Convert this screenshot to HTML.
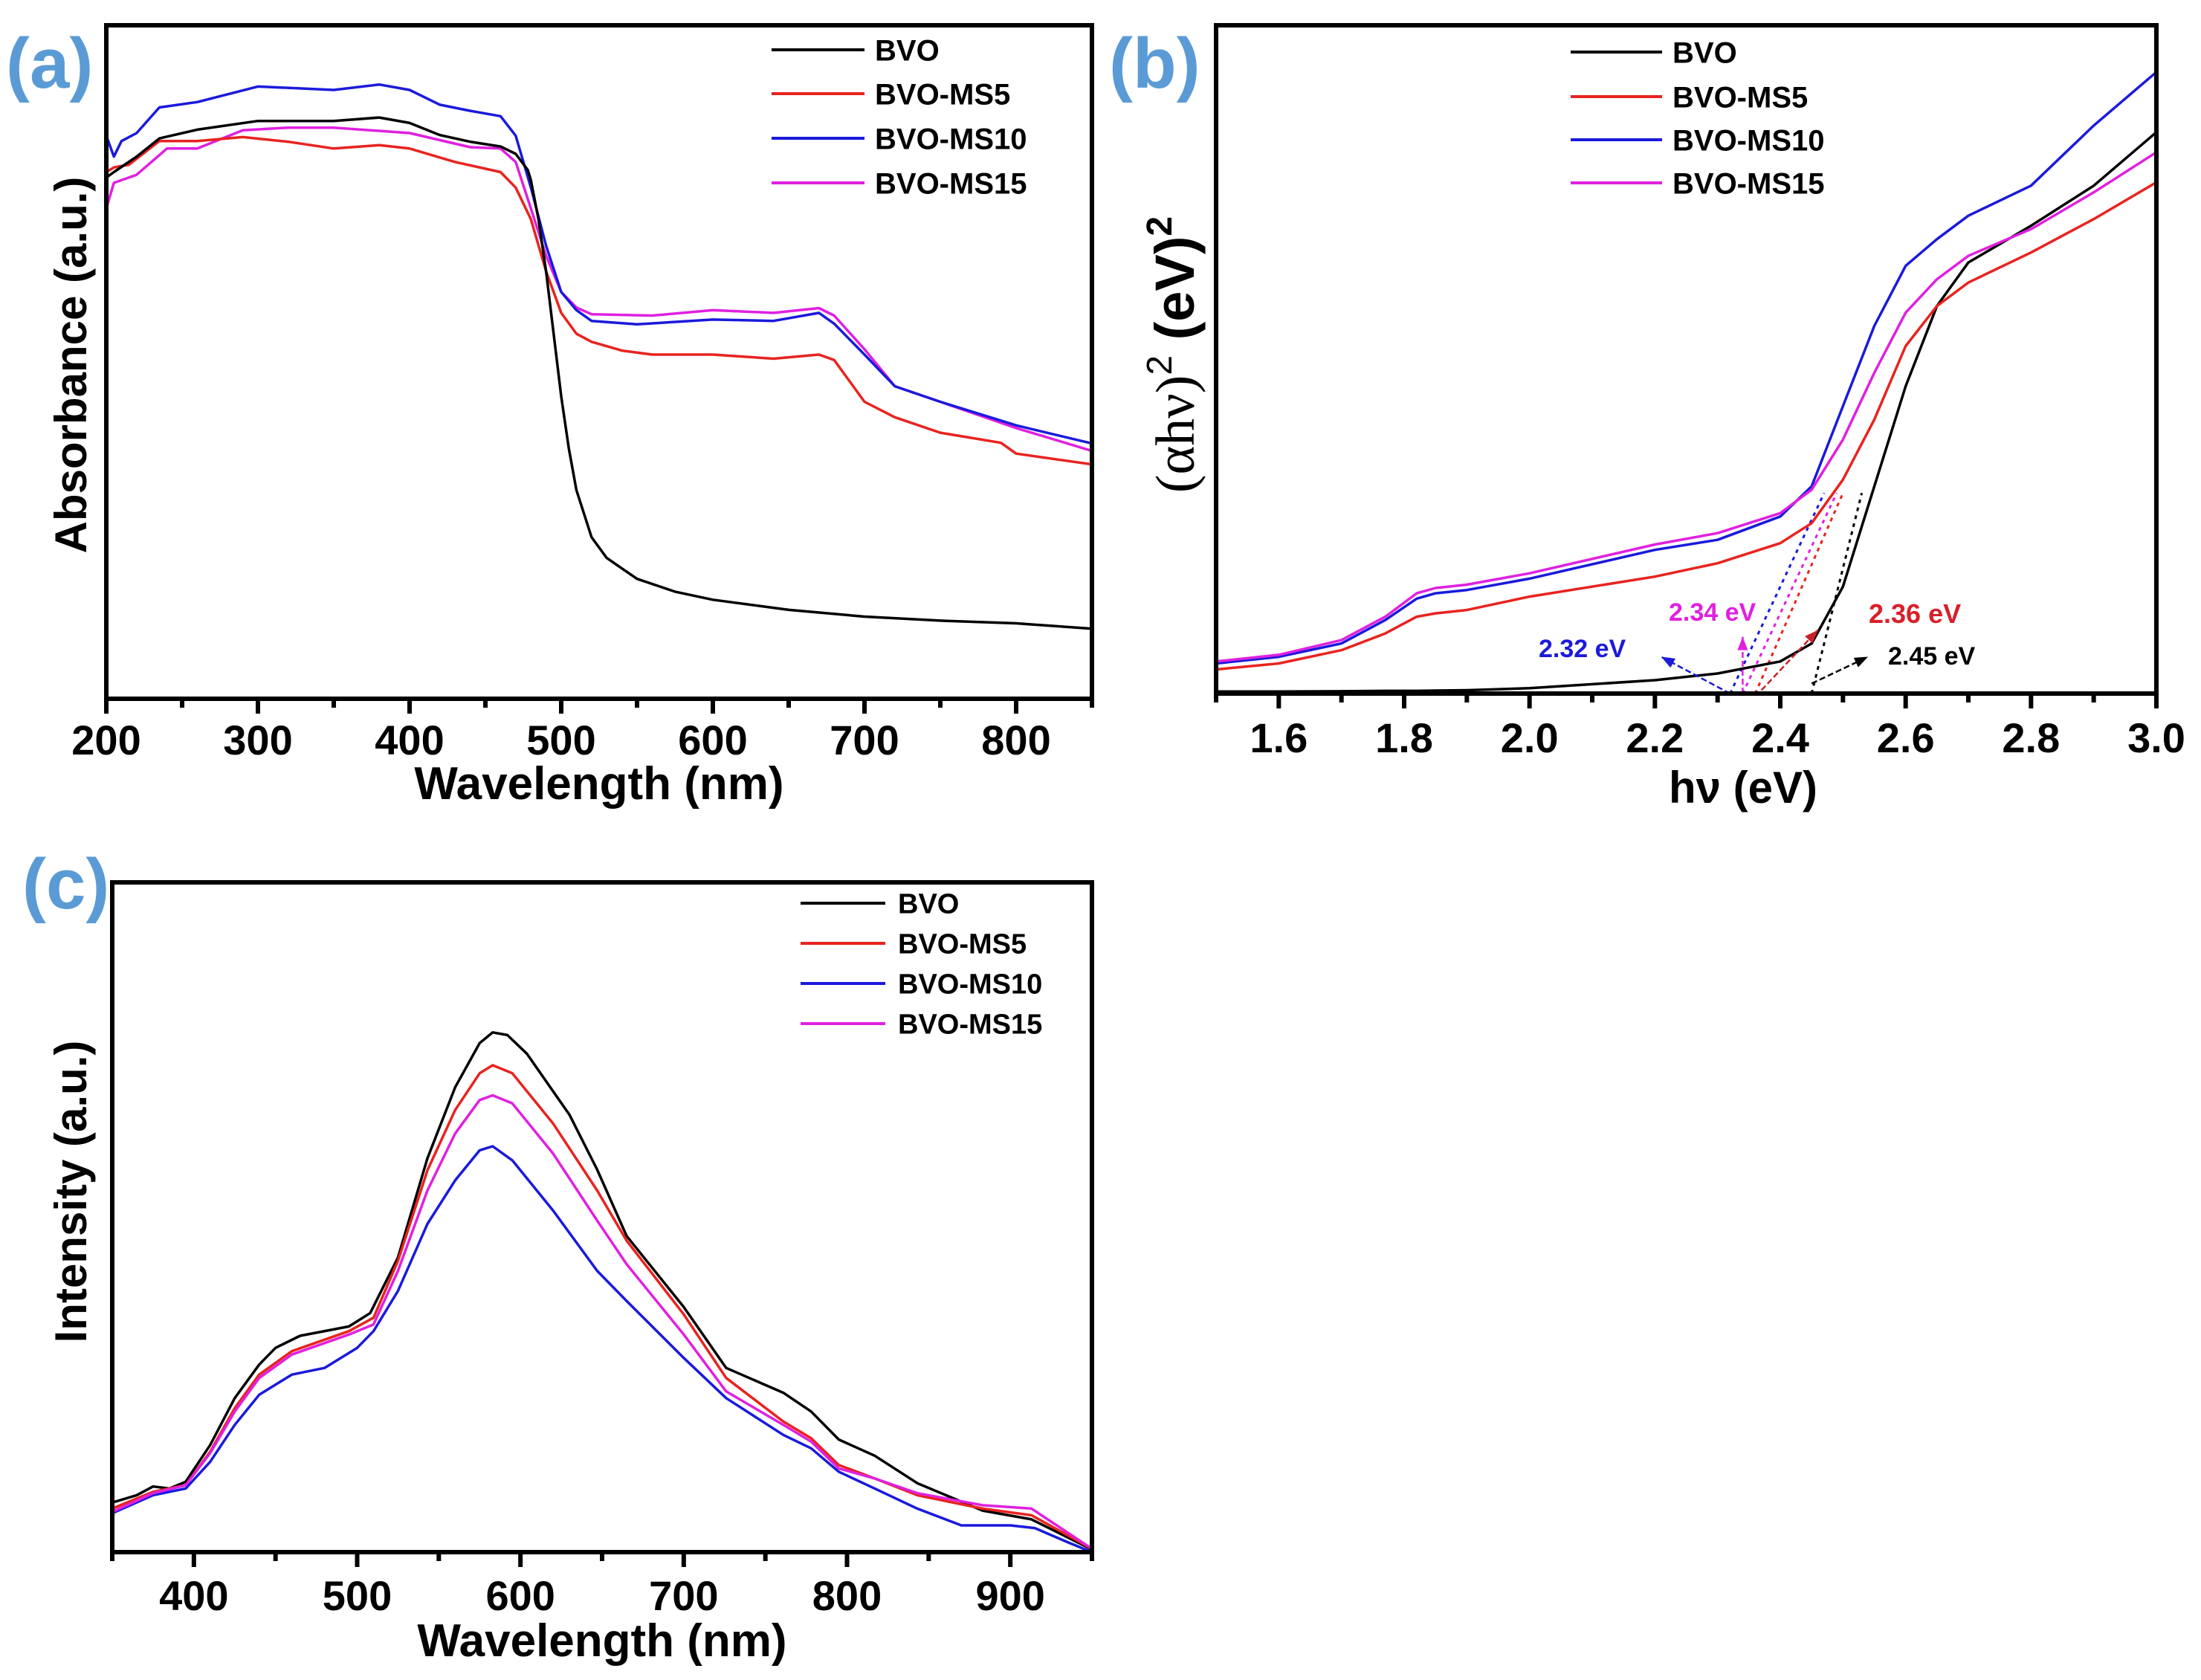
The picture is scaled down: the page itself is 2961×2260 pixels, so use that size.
<!DOCTYPE html>
<html><head><meta charset="utf-8"><style>
html,body{margin:0;padding:0;background:#fff;}
svg{display:block;font-family:"Liberation Sans",Arial,sans-serif;}
</style></head><body>
<svg id="fig" width="2961" height="2260" viewBox="0 0 2961 2260" xmlns="http://www.w3.org/2000/svg">
<g id="pa"></g>
<g id="pb"></g>
<g id="pc"></g>
</svg>
<script>
// ---------- Panel (a) data ----------
const aBVOx=[200,205,220,235,260,300,350,380,400,420,440,460,470,478,480,485,490,495,500,505,510,520,530,550,575,600,650,700,750,800,850];
const aBVOy=[77.4,78.2,80.5,83.2,84.5,85.8,85.8,86.3,85.5,83.7,82.7,82.0,80.9,78.5,77.0,71.2,63.5,54.2,44.9,37.2,31.0,24.0,20.9,17.8,15.9,14.7,13.2,12.2,11.6,11.2,10.4];
const aMS5x=[200,205,215,235,260,290,320,350,380,400,430,460,470,480,490,500,510,520,540,560,600,640,670,680,690,700,720,750,790,800,850];
const aMS5y=[78.2,78.9,79.3,82.8,82.8,83.4,82.7,81.7,82.2,81.7,79.7,78.2,75.9,71.2,63.5,57.3,54.2,53.0,51.7,51.1,51.1,50.5,51.1,50.3,47.2,44.1,41.8,39.5,38.0,36.4,34.8];
const aMS10x=[200,205,210,220,235,260,300,350,380,400,420,440,460,470,480,490,500,510,520,550,600,640,670,680,700,720,750,800,850];
const aMS10y=[83.6,80.5,82.8,84.0,87.8,88.6,90.9,90.4,91.2,90.4,88.2,87.3,86.5,83.6,75.9,67.3,60.4,57.7,56.1,55.6,56.3,56.1,57.3,55.7,51.1,46.4,44.1,40.6,37.9];
const aMS15x=[200,205,220,240,260,290,320,350,400,440,460,470,480,490,500,510,520,560,600,640,670,680,700,720,750,800,850];
const aMS15y=[72.8,76.6,77.8,81.7,81.7,84.4,84.8,84.8,84.0,81.9,81.7,79.7,72.8,65.8,60.4,58.1,57.1,56.9,57.7,57.3,58.0,56.9,51.9,46.4,44.1,40.2,36.8];
const aTicks=[200,300,400,500,600,700,800];
const aMinor=[250,350,450,550,650,750,850];
// ---------- Panel (b) data ----------
const bX=[1.5,1.6,1.7,1.77,1.82,1.85,1.9,2.0,2.2,2.3,2.4,2.45,2.5,2.55,2.6,2.65,2.7,2.8,2.9,3.0];
const bBVO=[0.3,0.3,0.35,0.4,0.4,0.45,0.5,0.8,2.0,3.0,4.8,7.5,16,31,46,58,64.5,70,76,84];
const bMS5=[3.6,4.5,6.5,9,11.5,12,12.5,14.5,17.5,19.5,22.5,25.5,32,41,52,58,61.5,66,71,76.5];
const bMS10=[4.5,5.5,7.5,11,14.2,15,15.5,17.2,21.5,23,26.5,31,43,55,64,68,71.5,76,85,93];
const bMS15=[4.8,5.8,8,11.5,15,15.8,16.3,18,22.3,24,27,30.5,38,48,57,62,65.5,69.5,75,81];
const bTicks=[1.6,1.8,2.0,2.2,2.4,2.6,2.8,3.0];
const bTickLabels=["1.6","1.8","2.0","2.2","2.4","2.6","2.8","3.0"];
const bMinor=[1.5,1.7,1.9,2.1,2.3,2.5,2.7,2.9];
const bGaps=[2.32,2.34,2.36,2.45];
const bGapLabels=["2.32 eV","2.34 eV","2.36 eV","2.45 eV"];
// ---------- Panel (c) data ----------
const cBVOx=[350,365,375,385,395,410,425,440,450,465,495,508,525,543,560,575,583,592,604,630,647,665,700,726,761,778,795,817,843,883,913,950];
const cBVOy=[7.4,8.5,9.8,9.5,10.5,16,23,28,30.5,32.3,33.7,35.7,44,58.8,69.4,76,77.6,77.2,74.4,65.3,57.1,47.2,36.6,27.5,23.8,21,16.8,14.4,10.3,6.2,4.9,0.4];
const cX=[350,375,395,410,425,440,460,495,510,525,543,560,575,583,595,620,647,665,700,726,761,778,795,817,843,883,913,950];
const cMS5=[6.5,9,10,15,21.5,26.5,30,33,35,43.5,57,66,71.5,72.7,71.5,64,54,46.5,35.5,26,19.5,17,13,11,8.5,6.5,5.5,0.5];
const cMS15=[6,8.8,10,14.8,21,26,29.5,32.5,34,42,54,62.5,67.5,68.2,67,59.5,49.5,43,32.5,24,19,16.5,12.5,11,8.8,7,6.5,0.5];
const cMS10x=[350,375,395,410,425,440,460,480,500,510,525,543,560,575,583,595,620,647,665,700,726,761,778,795,817,843,870,900,915,935,950];
const cMS10y=[5.8,8.5,9.5,13.5,19,23.5,26.5,27.5,30.5,33,39,49,55.5,60,60.6,58.5,51,42,37.5,29,23,17.5,15.5,12,9.5,6.5,4,4,3.6,1.5,0];
const cTicks=[400,500,600,700,800,900];
const cMinor=[350,450,550,650,750,850,950];
const seriesNames=["BVO","BVO-MS5","BVO-MS10","BVO-MS15"];
const seriesColors=["#000000","#e8231f","#1a1adc","#e020e0"];

const NS="http://www.w3.org/2000/svg";
function mk(parent,tag,attrs){const e=document.createElementNS(NS,tag);for(const k in attrs)e.setAttribute(k,attrs[k]);parent.appendChild(e);return e;}
function lin(d0,d1,p0,p1){return v=>p0+(v-d0)/(d1-d0)*(p1-p0);}
function pathD(xs,ys,X,Y){return xs.map((x,i)=>(i?"L":"M")+X(x).toFixed(1)+","+Y(ys[i]).toFixed(1)).join("");}

function frame(g,L,T,R,B,X,ticks,labels,minor,labelY){
  ticks.forEach((t,i)=>{
    const l=mk(g,"line",{x1:X(t),x2:X(t),y1:B,y2:B+20,stroke:"#000","stroke-width":6});
    
    
    const tx=mk(g,"text",{x:X(t),y:labelY,"text-anchor":"middle","font-size":56,"font-weight":"bold",fill:"#000"});
    tx.textContent=labels[i];
    
    
  });
  minor.forEach(t=>{
    const l=mk(g,"line",{x1:X(t),x2:X(t),y1:B,y2:B+12,stroke:"#000","stroke-width":6});
    
    
  });
  const r=mk(g,"rect",{x:L,y:T,width:R-L,height:B-T,fill:"none",stroke:"#000","stroke-width":6});
  
  
}
function legend(g,x1,x2,tx,ys,fs){
  seriesNames.forEach((n,i)=>{
    const l=mk(g,"line",{x1:x1,x2:x2,y1:ys[i],y2:ys[i],stroke:seriesColors[i],"stroke-width":4});
    
    
    const t=mk(g,"text",{x:tx,y:ys[i]+fs*0.36,"font-size":fs,"font-weight":"bold",fill:"#000"});
    t.textContent=n;
    
    
  });
}
function series(g,xs,ys,X,Y,c,name){
  const p=mk(g,"path",{d:pathD(xs,ys,X,Y),fill:"none",stroke:c,"stroke-width":3.5,"stroke-linejoin":"round"});
  
  
}
function txt(g,s,attrs,name){const t=mk(g,"text",attrs);t.textContent=s;return t;}

// ---- Panel a ----
(function(){
  const g=document.getElementById('pa');
  const L=143,R=1469,T=34,B=940;
  const X=lin(200,850,L,R),Y=lin(0,100,B,T);
  series(g,aMS15x,aMS15y,X,Y,seriesColors[3],'line-bvo-ms15');
  series(g,aMS10x,aMS10y,X,Y,seriesColors[2],'line-bvo-ms10');
  series(g,aMS5x,aMS5y,X,Y,seriesColors[1],'line-bvo-ms5');
  series(g,aBVOx,aBVOy,X,Y,seriesColors[0],'line-bvo');
  frame(g,L,T,R,B,X,aTicks,aTicks.map(String),aMinor,1015);
  legend(g,1038,1163,1177,[67,126,186,246],40);
  txt(g,"Wavelength (nm)",{x:806,y:1075,"text-anchor":"middle","font-size":62,"font-weight":"bold"},'x-axis-title');
  txt(g,"Absorbance (a.u.)",{x:0,y:0,"text-anchor":"middle","font-size":60,"font-weight":"bold",transform:"translate(116,491) rotate(-90)"},'y-axis-title');
  txt(g,"(a)",{x:8,y:118,"font-size":96,"font-weight":"bold",fill:"#5b9bd5"},'panel-label-a');
})();

// ---- Panel b ----
(function(){
  const g=document.getElementById('pb');
  const L=1636,R=2901,T=34,B=933;
  const X=lin(1.5,3.0,L,R),Y=lin(0,100,B,T);
  const tops=[[2.47,30],[2.49,30],[2.5,30],[2.53,30]];
  bGaps.forEach((e,i)=>{
    const l=mk(g,"line",{x1:X(e),y1:Y(0),x2:X(tops[i][0]),y2:Y(tops[i][1]),stroke:seriesColors[[2,3,1,0][i]],"stroke-width":3,"stroke-dasharray":"5,6"});
    
    
  });
  series(g,bX,bBVO,X,Y,seriesColors[0],'line-bvo');
  series(g,bX,bMS5,X,Y,seriesColors[1],'line-bvo-ms5');
  series(g,bX,bMS10,X,Y,seriesColors[2],'line-bvo-ms10');
  series(g,bX,bMS15,X,Y,seriesColors[3],'line-bvo-ms15');
  const arr=[[X(2.32),Y(0),X(2.21),Y(5.5),"#1a1adc"],[X(2.34),Y(0),X(2.34),Y(8.5),"#e020e0"],[X(2.37),Y(0.5),X(2.46),Y(9.5),"#c8202a"],[X(2.45),Y(1.5),X(2.54),Y(5.5),"#000"]];
  arr.forEach(a=>{
    const l=mk(g,"line",{x1:a[0],y1:a[1],x2:a[2],y2:a[3],stroke:a[4],"stroke-width":2.5,"stroke-dasharray":"8,4"});
    
    
    const ang=Math.atan2(a[3]-a[1],a[2]-a[0]);
    const hx=a[2],hy=a[3],s=18;
    const p=mk(g,"polygon",{points:`${hx},${hy} ${hx-s*Math.cos(ang)+7*Math.sin(ang)},${hy-s*Math.sin(ang)-7*Math.cos(ang)} ${hx-s*Math.cos(ang)-7*Math.sin(ang)},${hy-s*Math.sin(ang)+7*Math.cos(ang)}`,fill:a[4]});
    
    
  });
  txt(g,bGapLabels[0],{x:2070,y:884,"font-size":34,"font-weight":"bold",fill:"#1a1adc"},'gap-label-ms10');
  txt(g,bGapLabels[1],{x:2245,y:835,"font-size":34,"font-weight":"bold",fill:"#e020e0"},'gap-label-ms15');
  txt(g,bGapLabels[2],{x:2514,y:838,"font-size":36,"font-weight":"bold",fill:"#d8202a"},'gap-label-ms5');
  txt(g,bGapLabels[3],{x:2540,y:894,"font-size":34,"font-weight":"bold",fill:"#000"},'gap-label-bvo');
  frame(g,L,T,R,B,X,bTicks,bTickLabels,bMinor,1012);
  legend(g,2113,2236,2250,[70,130,188,246],40);
  txt(g,"hν (eV)",{x:2345,y:1080,"text-anchor":"middle","font-size":60,"font-weight":"bold"},'x-axis-title');
  const yt=txt(g,"",{x:0,y:0,"text-anchor":"middle","font-size":74,"font-weight":"bold",transform:"translate(1606,477) rotate(-90)"},'y-axis-title');
  const t1=mk(yt,"tspan",{"font-weight":"normal","font-family":"Liberation Serif, serif"});t1.textContent="(αhν)";
  const t2=mk(yt,"tspan",{dy:-30,"font-size":48,"font-weight":"normal"});t2.textContent="2";
  const t3=mk(yt,"tspan",{dy:30});t3.textContent=" (eV)";
  const t4=mk(yt,"tspan",{dy:-30,"font-size":48});t4.textContent="2";
  txt(g,"(b)",{x:1492,y:118,"font-size":96,"font-weight":"bold",fill:"#5b9bd5"},'panel-label-b');
})();

// ---- Panel c ----
(function(){
  const g=document.getElementById('pc');
  const L=151,R=1469,T=1187,B=2088;
  const X=lin(350,950,L,R),Y=lin(0,100,B,T);
  series(g,cBVOx,cBVOy,X,Y,seriesColors[0],'line-bvo');
  series(g,cX,cMS5,X,Y,seriesColors[1],'line-bvo-ms5');
  series(g,cMS10x,cMS10y,X,Y,seriesColors[2],'line-bvo-ms10');
  series(g,cX,cMS15,X,Y,seriesColors[3],'line-bvo-ms15');
  frame(g,L,T,R,B,X,cTicks,cTicks.map(String),cMinor,2166);
  legend(g,1077,1191,1208,[1215,1269,1323,1377],38);
  txt(g,"Wavelength (nm)",{x:810,y:2228,"text-anchor":"middle","font-size":62,"font-weight":"bold"},'x-axis-title');
  txt(g,"Intensity (a.u.)",{x:0,y:0,"text-anchor":"middle","font-size":60,"font-weight":"bold",transform:"translate(116,1603) rotate(-90)"},'y-axis-title');
  txt(g,"(c)",{x:30,y:1222,"font-size":96,"font-weight":"bold",fill:"#5b9bd5"},'panel-label-c');
})();
</script>
</body></html>
